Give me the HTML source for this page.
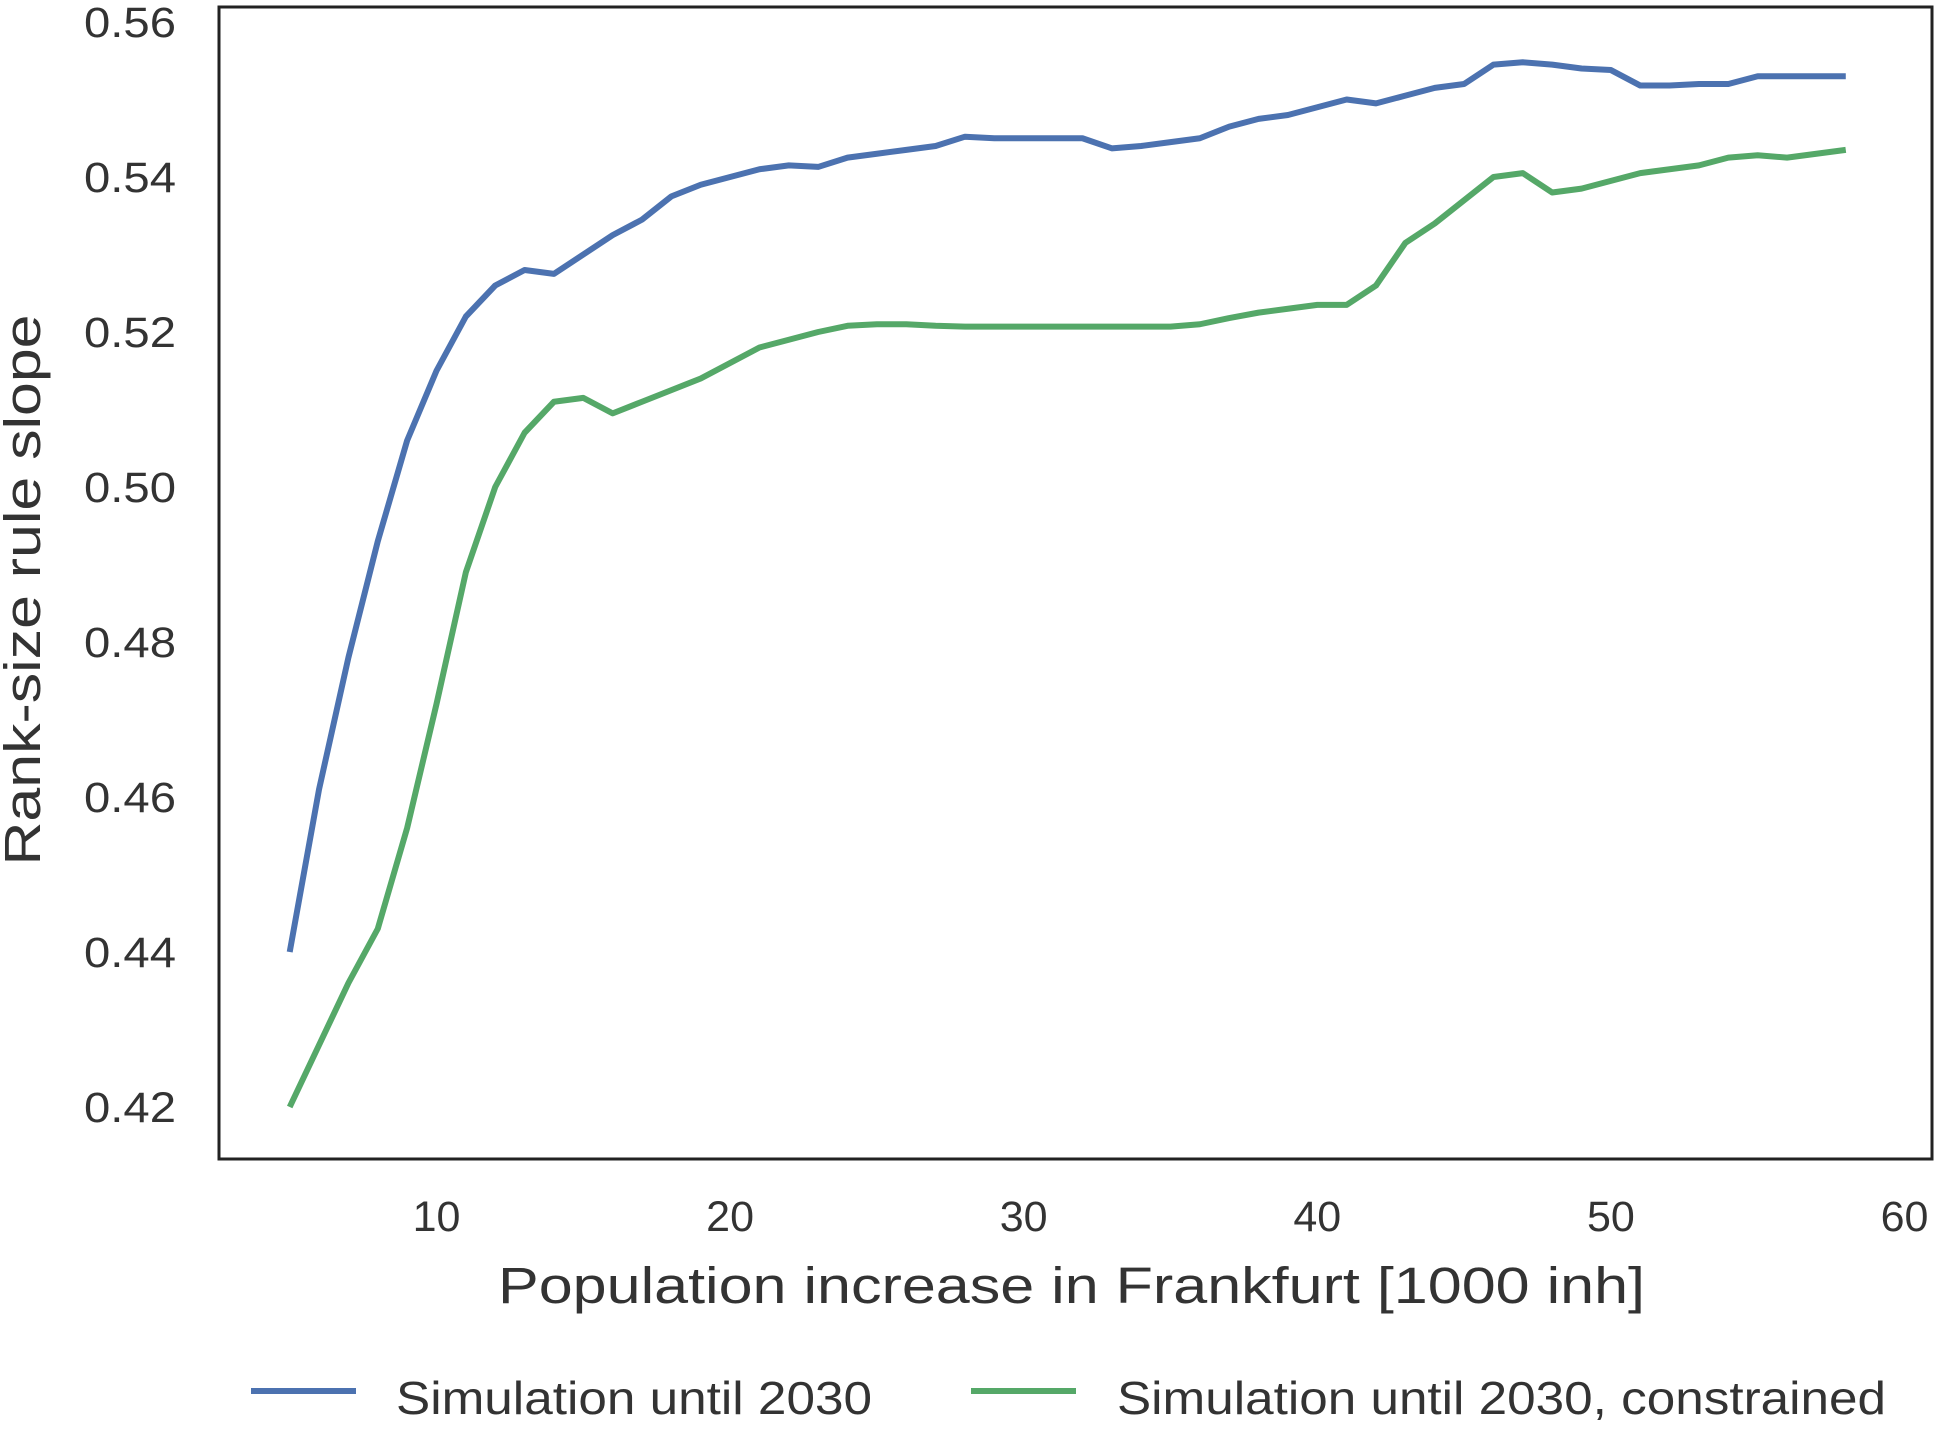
<!DOCTYPE html>
<html><head><meta charset="utf-8"><style>
body{margin:0;background:#fff}
svg text{font-family:"Liberation Sans",sans-serif;fill:#333}
</style></head><body>
<svg id="chart" width="1939" height="1428" viewBox="0 0 1939 1428" xmlns="http://www.w3.org/2000/svg">
<g id="plot"></g>
<rect x="219" y="7" width="1713" height="1152" fill="none" stroke="#222" stroke-width="3"/>
<text transform="translate(40,590) rotate(-90)" text-anchor="middle" font-size="51" textLength="551" lengthAdjust="spacingAndGlyphs">Rank-size rule slope</text>
<text x="498" y="1303" font-size="51" textLength="1147" lengthAdjust="spacingAndGlyphs">Population increase in Frankfurt [1000 inh]</text>
<g>
<line x1="251" y1="1391" x2="356" y2="1391" stroke="#4c72b0" stroke-width="6"/>
<text x="396" y="1414" font-size="46" textLength="476" lengthAdjust="spacingAndGlyphs">Simulation until 2030</text>
<line x1="971" y1="1391" x2="1076" y2="1391" stroke="#55a868" stroke-width="6"/>
<text x="1117" y="1414" font-size="46" textLength="769" lengthAdjust="spacingAndGlyphs">Simulation until 2030, constrained</text>
</g>
</svg>
<script>
const xs=[5,6,7,8,9,10,11,12,13,14,15,16,17,18,19,20,21,22,23,24,25,26,27,28,29,30,31,32,33,34,35,36,37,38,39,40,41,42,43,44,45,46,47,48,49,50,51,52,53,54,55,56,57,58];
const blue=[0.440,0.461,0.478,0.493,0.506,0.515,0.522,0.526,0.528,0.5275,0.530,0.5325,0.5345,0.5375,0.539,0.540,0.541,0.5415,0.5413,0.5425,0.543,0.5435,0.544,0.5452,0.545,0.545,0.545,0.545,0.5437,0.544,0.5445,0.545,0.5465,0.5475,0.548,0.549,0.550,0.5495,0.5505,0.5515,0.552,0.5545,0.5548,0.5545,0.554,0.5538,0.5518,0.5518,0.552,0.552,0.553,0.553,0.553,0.553];
const green=[0.420,0.428,0.436,0.443,0.456,0.472,0.489,0.500,0.507,0.511,0.5115,0.5095,0.511,0.5125,0.514,0.516,0.518,0.519,0.520,0.5208,0.521,0.521,0.5208,0.5207,0.5207,0.5207,0.5207,0.5207,0.5207,0.5207,0.5207,0.521,0.5218,0.5225,0.523,0.5235,0.5235,0.526,0.5315,0.534,0.537,0.540,0.5405,0.538,0.5385,0.5395,0.5405,0.541,0.5415,0.5425,0.5428,0.5425,0.543,0.5435];
const yTicks=[0.42,0.44,0.46,0.48,0.50,0.52,0.54,0.56];
const xTicks=[10,20,30,40,50,60];
const NS="http://www.w3.org/2000/svg";
const X=v=>436.5+(v-10)*29.36;
const Y=v=>22+(0.56-v)/0.02*155;
const svg=document.getElementById('chart');
const g=document.getElementById('plot');
yTicks.forEach(t=>{
  const e=document.createElementNS(NS,'text');
  
  
  e.setAttribute('x',84);e.setAttribute('y',Y(t)+15);
  e.setAttribute('font-size','43');
  e.setAttribute('textLength','92');e.setAttribute('lengthAdjust','spacingAndGlyphs');
  e.textContent=t.toFixed(2);svg.appendChild(e);
});
xTicks.forEach(t=>{
  const e=document.createElementNS(NS,'text');
  
  
  e.setAttribute('x',X(t));e.setAttribute('y',1231);
  e.setAttribute('text-anchor','middle');e.setAttribute('font-size','43');
  e.textContent=t;svg.appendChild(e);
});
function line(vals,color,name){
  const p=document.createElementNS(NS,'polyline');
  
  
  p.setAttribute('points',vals.map((v,i)=>X(xs[i])+','+Y(v)).join(' '));
  p.setAttribute('fill','none');p.setAttribute('stroke',color);
  p.setAttribute('stroke-width','6');p.setAttribute('stroke-linejoin','round');
  g.appendChild(p);
}
line(blue,'#4c72b0','series-simulation');
line(green,'#55a868','series-simulation-constrained');
</script>
</body></html>
